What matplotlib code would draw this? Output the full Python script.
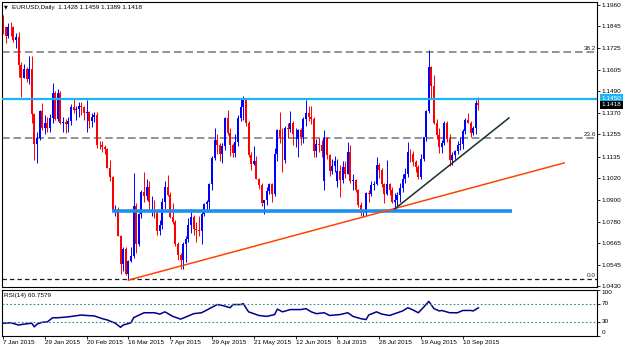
import matplotlib
matplotlib.use("Agg")
import matplotlib.pyplot as plt
import matplotlib.transforms as mtransforms
import numpy as np
import pandas as pd

plt.rcParams["font.family"] = ["Liberation Sans", "DejaVu Sans"]

# EURUSD daily bars, 7 Jan 2015 .. 18 Sep 2015 (one row per month)
opens = [
    1.1890, 1.1838, 1.1793, 1.1841, 1.1838, 1.1772, 1.1788, 1.1631, 1.1565, 1.1610, 1.1556, 1.1611, 1.1367, 1.1204, 1.1238, 1.1381, 1.1288, 1.1318,
    1.1290, 1.1345, 1.1480, 1.1339, 1.1479, 1.1315, 1.1322, 1.1310, 1.1330, 1.1403, 1.1388, 1.1396, 1.1410, 1.1406, 1.1372, 1.1380, 1.1330, 1.1350, 1.1360, 1.1197,
    1.1196, 1.1185, 1.1175, 1.1073, 1.1025, 1.0844, 1.0850, 1.0702, 1.0548, 1.0630, 1.0495, 1.0565, 1.0595, 1.0866, 1.0660, 1.0820, 1.0940, 1.0920, 1.0967, 1.0887, 1.0888, 1.0830,
    1.0732, 1.0760, 1.0887, 1.0970, 1.0925, 1.0808, 1.0780, 1.0660, 1.0600, 1.0570, 1.0660, 1.0685, 1.0764, 1.0807, 1.0738, 1.0733, 1.0728, 1.0820, 1.0875, 1.0885, 1.0985, 1.1128,
    1.1225, 1.1195, 1.1146, 1.1190, 1.1345, 1.1265, 1.1200, 1.1155, 1.1215, 1.1345, 1.1405, 1.1450, 1.1315, 1.1145, 1.1095, 1.1110, 1.1015, 1.0980, 1.0880, 1.0900, 1.0945,
    1.0985, 1.0930, 1.1150, 1.1280, 1.1240, 1.1115, 1.1290, 1.1285, 1.1320, 1.1255, 1.1230, 1.1280, 1.1240, 1.1340, 1.1370, 1.1350, 1.1340, 1.1165, 1.1205, 1.1200, 1.1000, 1.1235,
    1.1145, 1.1055, 1.1085, 1.1000, 1.1055, 1.1005, 1.1080, 1.1040, 1.1160, 1.1000, 1.1005, 1.0950, 1.0870, 1.0825, 1.0830, 1.0935, 1.0930, 1.0980, 1.0985, 1.1090, 1.1060, 1.0985, 1.0930,
    1.0985, 1.0950, 1.0890, 1.0900, 1.0925, 1.0965, 1.1015, 1.1040, 1.1160, 1.1150, 1.1105, 1.1080, 1.1025, 1.1120, 1.1240, 1.1385, 1.1620, 1.1520, 1.1320, 1.1250, 1.1185,
    1.1210, 1.1315, 1.1230, 1.1115, 1.1145, 1.1165, 1.1200, 1.1205, 1.1275, 1.1335, 1.1320, 1.1265, 1.1290, 1.1428,
]
highs = [
    1.1905, 1.1848, 1.1860, 1.1868, 1.1845, 1.1810, 1.1812, 1.1650, 1.1640, 1.1620, 1.1680, 1.1680, 1.1370, 1.1270, 1.1390, 1.1425, 1.1360, 1.1350,
    1.1365, 1.1535, 1.1490, 1.1500, 1.1490, 1.1350, 1.1340, 1.1348, 1.1420, 1.1450, 1.1410, 1.1430, 1.1430, 1.1410, 1.1445, 1.1385, 1.1370, 1.1375, 1.1380, 1.1220,
    1.1220, 1.1200, 1.1180, 1.1115, 1.1030, 1.0870, 1.0860, 1.0710, 1.0640, 1.0640, 1.0570, 1.0640, 1.1043, 1.0880, 1.0830, 1.0950, 1.1050, 1.1010, 1.1000, 1.0920, 1.0900, 1.0840,
    1.0790, 1.0910, 1.1000, 1.1035, 1.0940, 1.0880, 1.0790, 1.0670, 1.0610, 1.0670, 1.0700, 1.0800, 1.0850, 1.0815, 1.0780, 1.0810, 1.0850, 1.0880, 1.0900, 1.0990, 1.1140, 1.1290,
    1.1260, 1.1210, 1.1210, 1.1350, 1.1390, 1.1290, 1.1210, 1.1260, 1.1360, 1.1450, 1.1467, 1.1455, 1.1330, 1.1160, 1.1190, 1.1140, 1.1020, 1.0990, 1.0900, 1.0970, 1.0990,
    1.0990, 1.1180, 1.1285, 1.1380, 1.1290, 1.1300, 1.1320, 1.1385, 1.1330, 1.1290, 1.1285, 1.1290, 1.1350, 1.1440, 1.1410, 1.1410, 1.1350, 1.1230, 1.1240, 1.1225, 1.1280, 1.1240,
    1.1150, 1.1120, 1.1140, 1.1120, 1.1090, 1.1110, 1.1110, 1.1215, 1.1200, 1.1040, 1.1010, 1.0960, 1.0890, 1.0840, 1.0940, 1.0950, 1.1000, 1.1000, 1.1130, 1.1100, 1.1070, 1.0990, 1.1115,
    1.0990, 1.0970, 1.0935, 1.0940, 1.0990, 1.1040, 1.1070, 1.1215, 1.1175, 1.1165, 1.1115, 1.1090, 1.1150, 1.1240, 1.1390, 1.1715, 1.1630, 1.1580, 1.1340, 1.1290, 1.1225,
    1.1330, 1.1330, 1.1260, 1.1160, 1.1170, 1.1220, 1.1240, 1.1285, 1.1345, 1.1370, 1.1330, 1.1300, 1.1440, 1.1459,
]
lows = [
    1.1800, 1.1754, 1.1780, 1.1790, 1.1760, 1.1728, 1.1568, 1.1460, 1.1560, 1.1540, 1.1530, 1.1315, 1.1115, 1.1098, 1.1225, 1.1282, 1.1260, 1.1270,
    1.1270, 1.1320, 1.1335, 1.1330, 1.1310, 1.1270, 1.1265, 1.1270, 1.1305, 1.1370, 1.1335, 1.1350, 1.1360, 1.1336, 1.1270, 1.1290, 1.1295, 1.1325, 1.1180, 1.1175,
    1.1160, 1.1150, 1.1070, 1.1000, 1.0840, 1.0810, 1.0700, 1.0495, 1.0510, 1.0490, 1.0462, 1.0560, 1.0580, 1.0610, 1.0650, 1.0800, 1.0890, 1.0900, 1.0850, 1.0810, 1.0800, 1.0710,
    1.0710, 1.0740, 1.0850, 1.0920, 1.0800, 1.0770, 1.0650, 1.0570, 1.0520, 1.0520, 1.0560, 1.0670, 1.0720, 1.0705, 1.0670, 1.0700, 1.0660, 1.0810, 1.0840, 1.0850, 1.0950, 1.1115,
    1.1150, 1.1110, 1.1100, 1.1170, 1.1250, 1.1140, 1.1135, 1.1130, 1.1190, 1.1330, 1.1335, 1.1300, 1.1130, 1.1060, 1.1090, 1.1010, 1.0960, 1.0865, 1.0820, 1.0870, 1.0930,
    1.0885, 1.0920, 1.1110, 1.1210, 1.1050, 1.1100, 1.1235, 1.1270, 1.1200, 1.1185, 1.1135, 1.1200, 1.1210, 1.1300, 1.1330, 1.1310, 1.1135, 1.1130, 1.1160, 1.1130, 1.0955, 1.1120,
    1.1030, 1.1040, 1.1050, 1.0970, 1.0915, 1.0990, 1.1020, 1.1040, 1.0990, 1.0950, 1.0940, 1.0860, 1.0810, 1.0808, 1.0810, 1.0890, 1.0920, 1.0950, 1.0980, 1.1020, 1.0970, 1.0880, 1.0925,
    1.0925, 1.0880, 1.0850, 1.0860, 1.0890, 1.0940, 1.0990, 1.1025, 1.1105, 1.1085, 1.1050, 1.1015, 1.1015, 1.1110, 1.1220, 1.1370, 1.1450, 1.1310, 1.1230, 1.1155, 1.1155,
    1.1200, 1.1215, 1.1085, 1.1090, 1.1120, 1.1150, 1.1170, 1.1175, 1.1260, 1.1315, 1.1240, 1.1250, 1.1260, 1.1389,
]
closes = [
    1.1838, 1.1793, 1.1841, 1.1838, 1.1772, 1.1788, 1.1631, 1.1565, 1.1610, 1.1556, 1.1611, 1.1367, 1.1204, 1.1238, 1.1381, 1.1288, 1.1318, 1.1290,
    1.1345, 1.1480, 1.1339, 1.1479, 1.1315, 1.1322, 1.1310, 1.1330, 1.1403, 1.1388, 1.1396, 1.1410, 1.1406, 1.1372, 1.1380, 1.1330, 1.1350, 1.1360, 1.1197, 1.1196,
    1.1185, 1.1175, 1.1073, 1.1025, 1.0844, 1.0850, 1.0702, 1.0548, 1.0630, 1.0495, 1.0565, 1.0595, 1.0866, 1.0660, 1.0820, 1.0940, 1.0920, 1.0967, 1.0887, 1.0888, 1.0830, 1.0732,
    1.0760, 1.0887, 1.0970, 1.0925, 1.0808, 1.0780, 1.0660, 1.0600, 1.0570, 1.0660, 1.0685, 1.0764, 1.0807, 1.0738, 1.0733, 1.0728, 1.0820, 1.0875, 1.0885, 1.0985, 1.1128, 1.1225,
    1.1195, 1.1146, 1.1190, 1.1345, 1.1265, 1.1200, 1.1155, 1.1215, 1.1345, 1.1405, 1.1450, 1.1315, 1.1145, 1.1095, 1.1110, 1.1015, 1.0980, 1.0880, 1.0900, 1.0945, 1.0985,
    1.0930, 1.1150, 1.1280, 1.1240, 1.1115, 1.1290, 1.1285, 1.1320, 1.1255, 1.1260, 1.1280, 1.1240, 1.1340, 1.1370, 1.1350, 1.1340, 1.1165, 1.1205, 1.1200, 1.1165, 1.1235, 1.1145,
    1.1055, 1.1085, 1.1110, 1.1055, 1.1005, 1.1080, 1.1040, 1.1160, 1.1000, 1.1005, 1.0950, 1.0870, 1.0825, 1.0830, 1.0935, 1.0930, 1.0980, 1.0985, 1.1090, 1.1060, 1.0985, 1.0930, 1.0985,
    1.0950, 1.0890, 1.0900, 1.0925, 1.0965, 1.1015, 1.1040, 1.1160, 1.1150, 1.1105, 1.1080, 1.1025, 1.1120, 1.1240, 1.1385, 1.1620, 1.1520, 1.1320, 1.1250, 1.1185, 1.1210,
    1.1315, 1.1230, 1.1115, 1.1145, 1.1165, 1.1200, 1.1205, 1.1275, 1.1335, 1.1320, 1.1265, 1.1290, 1.1428, 1.1418,
]

# RSI(14) (bar index, value)
rsi_bar = [0, 3, 6, 8, 11, 12, 13, 15, 17, 19, 21, 25, 30, 32, 35, 38, 40, 43, 45, 46,
           49, 50, 51, 54, 58, 60, 62, 65, 68, 71, 73, 76, 79, 82, 84, 87, 88, 91, 92, 94,
           96, 98, 101, 104, 105, 107, 110, 114, 116, 118, 120, 123, 125, 129, 132, 134, 137, 139, 140, 143,
           145, 148, 151, 153, 155, 157, 159, 161, 163, 165, 167, 168, 171, 174, 176, 179, 180, 182]
rsi_val = [27, 28, 23, 25, 27, 19, 25, 29, 30, 39, 39, 41, 45, 44, 43, 37, 34, 27, 18, 23,
           28, 39, 42, 50, 50, 47, 52, 42, 36, 43, 48, 50, 59, 68, 66, 61, 68, 68, 70, 52,
           48, 44, 42, 46, 58, 52, 57, 57, 59, 52, 48, 50, 44, 46, 50, 42, 37, 35, 45, 52,
           47, 44, 50, 54, 61, 56, 50, 62, 75, 59, 54, 55, 50, 50, 55, 55, 54, 60.7579]

price_ticks = [1.0430, 1.0545, 1.0665, 1.0780, 1.0900, 1.1020, 1.1135, 1.1255,
               1.1370, 1.1490, 1.1605, 1.1725, 1.1845, 1.1960]
fib_levels = [1.0466, 1.1236, 1.1705]
fib_names = ["0.0", "23.6", "38.2"]
resistance = 1.1450
support = 1.0838
support_span = [41.7, 194.9]
red_trend_x, red_trend_y = [48, 214.8], [1.0462, 1.1100]
black_trend_x, black_trend_y = [150, 193.7], [1.0850, 1.1345]

dates = pd.bdate_range("2015-01-07", "2015-09-18")
n = len(closes)
assert len(opens) == len(highs) == len(lows) == n == len(dates)

W, H = 625, 347
fig = plt.figure(figsize=(W / 100, H / 100), dpi=100, facecolor="white")
ax = fig.add_axes([2 / W, (H - 287) / H, 595 / W, 285 / H])
ax_rsi = fig.add_axes([2 / W, (H - 335.5) / H, 595 / W, 45.5 / H], sharex=ax)

FS = 4.6
x = np.arange(n)
o, h, l, c = (np.array(v) for v in (opens, highs, lows, closes))
up = c >= o
cols = np.where(up, "#0000FF", "#FF0000")

# fibo / horizontal objects
for lev, name in zip(fib_levels, fib_names):
    dark = name == "0.0"
    ax.axhline(lev, color="#1a1a1a" if dark else "#777777", lw=0.9 if dark else 1.1,
               dashes=(3.5, 2.5) if dark else (5, 2.5), zorder=1)
    ax.text(0.998, lev + 0.0006, name, transform=mtransforms.blended_transform_factory(ax.transAxes, ax.transData),
            ha="right", va="bottom", fontsize=FS, color="#222222")

# candles
ax.vlines(x, l, h, colors=cols, lw=0.7, zorder=2)
ax.bar(x, np.maximum(np.abs(c - o), 0.0002), bottom=np.minimum(o, c), width=0.75,
       color=cols, lw=0, zorder=2)

ax.axhline(resistance, color="#19B5F5", lw=1.6, zorder=3)
ax.plot(support_span, [support, support], color="#1E8FF0", lw=2.6, solid_capstyle="butt", zorder=3)
ax.plot(red_trend_x, red_trend_y, color="#FF4500", lw=1.1, zorder=4)
ax.plot(black_trend_x, black_trend_y, color="#16302A", lw=1.1, zorder=4)

ax.set_xlim(-0.38, 227.4)
ax.set_ylim(1.04245, 1.19763)
ax.yaxis.tick_right()
ax.set_yticks(price_ticks)
ax.set_yticklabels([f"{v:.4f}" for v in price_ticks])
ax.tick_params(axis="y", length=2, width=0.6, pad=1.5, labelsize=FS)
ax.tick_params(axis="x", bottom=False, labelbottom=False)

blend = mtransforms.blended_transform_factory(ax.transAxes, ax.transData)
ax.text(1.008, resistance + 0.0002, f"{resistance:.4f}", transform=blend, ha="left", va="center",
        fontsize=FS, color="white", bbox=dict(boxstyle="square,pad=0.25", fc="#19B5F5", ec="none"))
ax.text(1.008, c[-1] - 0.0001, f"{c[-1]:.4f}", transform=blend, ha="left", va="center",
        fontsize=FS, color="white", bbox=dict(boxstyle="square,pad=0.25", fc="black", ec="none"))

for sp in ax.spines.values():
    sp.set_linewidth(0.8)

fig.text(3.5 / W, 1 - 6.5 / H, "\u25bc", fontsize=3.5, va="center", family="DejaVu Sans")
fig.text(12 / W, 1 - 7 / H,
         f"EURUSD,Daily  {opens[-1]:.4f} {highs[-1]:.4f} {lows[-1]:.4f} {closes[-1]:.4f}",
         fontsize=FS, va="center")

# RSI window
ax_rsi.plot(rsi_bar, rsi_val, color="#00008B", lw=1.1)
for lev in (70, 30):
    ax_rsi.axhline(lev, color="#2E8B8B", lw=0.8, dashes=(1.5, 2))
ax_rsi.set_ylim(0, 100)
ax_rsi.yaxis.tick_right()
ax_rsi.set_yticks([0, 30, 70, 100])
ax_rsi.set_yticklabels(["0", "30", "70", "100"])
for lab, va in zip(ax_rsi.get_yticklabels(), ["bottom", "center", "center", "top"]):
    lab.set_va(va)
ax_rsi.tick_params(axis="y", length=2, width=0.6, pad=1.5, labelsize=FS)
ax_rsi.text(0.003, 0.88, f"RSI(14) {rsi_val[-1]:.4f}",
            transform=ax_rsi.transAxes, fontsize=FS, va="center")

tick_bars = list(range(0, n, 16))
ax_rsi.set_xticks(tick_bars)
ax_rsi.set_xticklabels([f"{dates[i].day} {dates[i].strftime('%b %Y')}" for i in tick_bars])
plt.setp(ax_rsi.get_xticklabels(), ha="left")
ax_rsi.tick_params(axis="x", length=2, width=0.6, pad=1, labelsize=FS)
for sp in ax_rsi.spines.values():
    sp.set_linewidth(0.8)

fig.savefig("out.png", dpi=100, facecolor="white")
